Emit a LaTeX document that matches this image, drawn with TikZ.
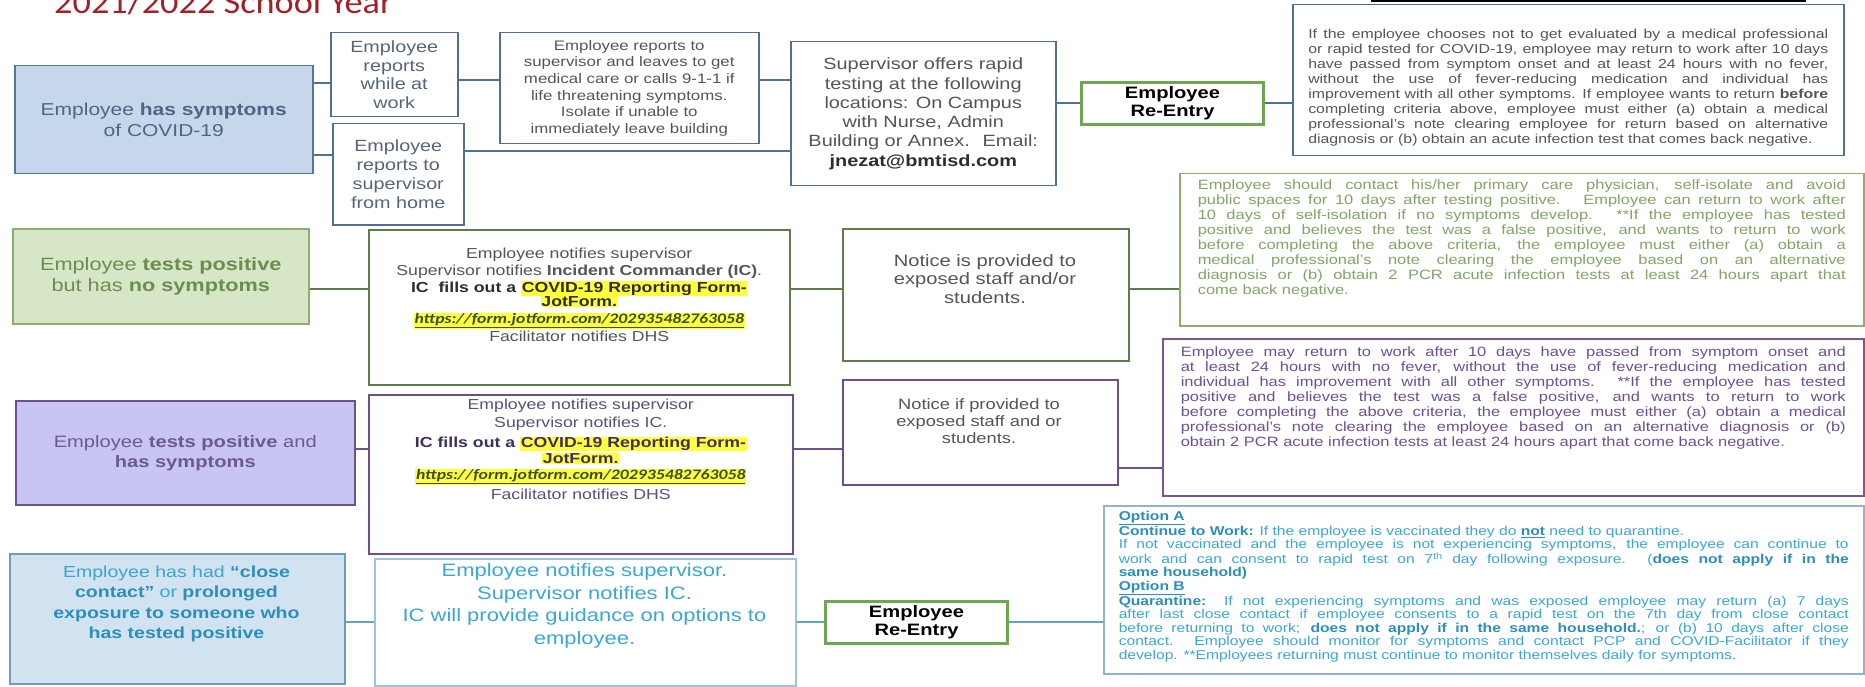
\documentclass[tikz,border=0pt]{standalone}
\usepackage{fontspec}
\setmainfont{Liberation Sans}[FakeStretch=1.22]
\newfontfamily\calfont{Carlito}[FakeStretch=1.22]
\newfontfamily\titlefont{Carlito}[FakeStretch=1.1]
\usetikzlibrary{calc}
\newcommand\setfs[2]{\fontsize{#1}{#2}\selectfont}
\definecolor{titlered}{HTML}{A3202A}
\definecolor{sfill}{HTML}{C7D7EB}
\definecolor{sdraw}{HTML}{56739C}
\definecolor{stext}{HTML}{4E6585}
\definecolor{rdraw}{HTML}{50709A}
\definecolor{whtext}{HTML}{566579}
\definecolor{gtext}{HTML}{555555}
\definecolor{dtext}{HTML}{2E2E2E}
\definecolor{redraw}{HTML}{6FA651}
\definecolor{gfill}{HTML}{D6E6C7}
\definecolor{gdraw}{HTML}{8CAE72}
\definecolor{gltext}{HTML}{6B8E50}
\definecolor{gdark}{HTML}{5E7D4A}
\definecolor{tgtext}{HTML}{82A466}
\definecolor{pfill}{HTML}{C9C5F3}
\definecolor{pdraw}{HTML}{6C528E}
\definecolor{pltext}{HTML}{6B5A92}
\definecolor{pdark}{HTML}{704E8E}
\definecolor{pmtext}{HTML}{5D4E7A}
\definecolor{pbold}{HTML}{3E2F5E}
\definecolor{tptext}{HTML}{6F4F93}
\definecolor{tpdraw}{HTML}{7A5599}
\definecolor{bfill}{HTML}{D1E3F1}
\definecolor{bdraw}{HTML}{6E9CBA}
\definecolor{btext}{HTML}{3FA3CD}
\definecolor{bbold}{HTML}{2C8EBA}
\definecolor{b2draw}{HTML}{9DC4D8}
\definecolor{tbdraw}{HTML}{8FB4CB}
\definecolor{tbtext}{HTML}{3AA7D6}
\definecolor{blines}{HTML}{62A4C6}
\definecolor{hl}{HTML}{FFFF3C}
\definecolor{urlc}{HTML}{3A4F2C}
\newcommand\hlb[1]{{\setlength\fboxsep{0.6pt}\colorbox{hl}{#1}}}
\newcommand\jurl{\hlb{\calfont\bfseries\itshape\color{urlc}\underline{https://form.jotform.com/202935482763058}}}
\hbadness=10000
\begin{document}
\begin{tikzpicture}[x=1pt,y=-1pt,
  box/.style={draw, rectangle, inner sep=0pt, anchor=north west, line width=1.5pt},
  rebox/.style={box, draw=redraw, line width=3pt, text=black, align=center, font=\setfs{16.5}{18}\bfseries},
  tx/.style={inner sep=0pt},
  con/.style={line width=1.5pt}]
\useasboundingbox (0,0) rectangle (1865,687);
\clip (0,0) rectangle (1865,687);
\fill[white] (0,0) rectangle (1865,687);

% title (cut at top)
\node[tx, anchor=base west, text=titlered, font=\titlefont\setfs{33}{38}] (title) at (54,14) {2021/2022 School Year};
\draw[black, line width=1.5pt] (1372,-10) rectangle (1805,1.2);

% ---------- row 1 ----------
\node[box, draw=sdraw, fill=sfill, minimum width=298pt, minimum height=108pt, text=stext, align=center, font=\setfs{17.2}{21.5}] (S1) at (14,65) {Employee \textbf{has symptoms}\\of COVID-19};
\node[box, draw=rdraw, minimum width=127pt, minimum height=84pt, text=whtext, align=center, font=\setfs{16.2}{18.5}] (W) at (330,32) {Employee\\reports\\while at\\work};
\node[box, draw=rdraw, minimum width=131pt, minimum height=101pt, text=whtext, align=center, font=\setfs{16.2}{18.8}] (H) at (332,123) {Employee\\reports to\\supervisor\\from home};
\node[box, draw=rdraw, minimum width=259pt, minimum height=111pt, text=gtext, align=center, font=\setfs{13.8}{16.7}] (L) at (499,32) {Employee reports to\\supervisor and leaves to get\\medical care or calls 9-1-1 if\\life threatening symptoms.\\Isolate if unable to\\immediately leave building};
\node[box, draw=rdraw, minimum width=265pt, minimum height=144pt, text=gtext, align=center, font=\setfs{16.3}{19.3}] (SUP) at (790,41) {Supervisor offers rapid\\testing at the following\\locations: On Campus\\with Nurse, Admin\\Building or Annex.~ Email:\\\textcolor{dtext}{\textbf{jnezat@bmtisd.com}}};
\node[rebox, minimum width=182pt, minimum height=42pt] (RE1) at (1080,81) {Employee\\Re-Entry};
\node[box, draw=rdraw, minimum width=551pt, minimum height=151pt] (T1) at (1292,4) {};
\node[tx, anchor=north, text width=520pt, align=justify, text=gtext, font=\setfs{13}{15}] (T1t) at ($(T1.north)+(0,25)$) {If the employee chooses not to get evaluated by a medical professional\linebreak or rapid tested for COVID-19, employee may return to work after 10 days\linebreak have passed from symptom onset and at least 24 hours with no fever,\linebreak without the use of fever-reducing medication and individual has\linebreak improvement with all other symptoms. If employee wants to return \textbf{before}\linebreak completing criteria above, employee must either (a) obtain a medical\linebreak professional’s note clearing employee for return based on alternative\linebreak diagnosis or (b) obtain an acute infection test that comes back negative.};

\coordinate (ya) at (0,83);
\coordinate (yb) at (0,155);
\coordinate (yc) at (0,80);
\coordinate (yd) at (0,151);
\coordinate (ye) at (0,103);
\draw[con, rdraw] (S1.east |- ya) -- (W.west |- ya);
\draw[con, rdraw] (S1.east |- yb) -- (H.west |- yb);
\draw[con, rdraw] (W.east |- yc) -- (L.west |- yc);
\draw[con, rdraw] (L.east |- yc) -- (SUP.west |- yc);
\draw[con, rdraw] (H.east |- yd) -- (SUP.west |- yd);
\draw[con, rdraw] (SUP.east |- ye) -- (RE1.west |- ye);
\draw[con, rdraw] (RE1.east |- ye) -- (T1.west |- ye);

% ---------- row 2 ----------
\node[box, draw=gdraw, fill=gfill, minimum width=296pt, minimum height=95pt, text=gltext, align=center, font=\setfs{17.8}{20.5}] (G1) at (12,228) {Employee \textbf{tests positive}\\but has \textbf{no symptoms}};
\node[box, draw=gdark, minimum width=421pt, minimum height=155pt] (G2) at (368,229) {};
\node[tx, anchor=north, align=center, text=gtext, font=\setfs{14.5}{15}] (G2t) at ($(G2.north)+(0,19)$) {Employee notifies supervisor\\[2pt]
Supervisor notifies \textbf{Incident Commander (IC)}.\\[1.5pt]
\textcolor{dtext}{\textbf{IC~ fills out a} \hlb{\textbf{COVID-19 Reporting Form-}}}\\[-0.5pt]
\textcolor{dtext}{\hlb{\textbf{JotForm.}}}\\[2pt]
\jurl\\[1.5pt]
Facilitator notifies DHS};
\node[box, draw=gdark, minimum width=286pt, minimum height=132pt] (N1) at (842,228) {};
\node[tx, align=center, text=gtext, font=\setfs{16.5}{18.5}] (N1t) at (985,279) {Notice is provided to\\exposed staff and/or\\students.};
\node[box, draw=gdraw, minimum width=684pt, minimum height=152pt] (T2) at (1179,173) {};
\node[tx, anchor=north, text width=648pt, align=justify, text=tgtext, font=\setfs{13.5}{14.9}] (T2t) at ($(T2.north)+(0,7)$) {Employee should contact his/her primary care physician, self-isolate and avoid\linebreak public spaces for 10 days after testing positive.~ Employee can return to work after\linebreak 10 days of self-isolation if no symptoms develop. **If the employee has tested\linebreak positive and believes the test was a false positive, and wants to return to work\linebreak before completing the above criteria, the employee must either (a) obtain a\linebreak medical professional’s note clearing the employee based on an alternative\linebreak diagnosis or (b) obtain 2 PCR acute infection tests at least 24 hours apart that\linebreak come back negative.};
\coordinate (yf) at (0,289);
\draw[con, gdark] (G1.east |- yf) -- (G2.west |- yf);
\draw[con, gdark] (G2.east |- yf) -- (N1.west |- yf);
\draw[con, gdark] (N1.east |- yf) -- (T2.west |- yf);

% ---------- row 3 ----------
\node[box, draw=pdraw, fill=pfill, minimum width=339pt, minimum height=104pt, text=pltext, align=center, font=\setfs{16.5}{20}] (P1) at (15,400) {Employee \textbf{tests positive} and\\\textbf{has symptoms}};
\node[box, draw=pdark, minimum width=424pt, minimum height=159pt] (P2) at (368,394) {};
\node[tx, anchor=north, align=center, text=pmtext, font=\setfs{14.5}{16}] (P2t) at ($(P2.north)+(0,5)$) {Employee notifies supervisor\\[2pt]
Supervisor notifies IC.\\[4pt]
\textcolor{pbold}{\textbf{IC fills out a} \hlb{\textbf{COVID-19 Reporting Form-}}}\\
\textcolor{pbold}{\hlb{\textbf{JotForm.}}}\\
\jurl\\[4pt]
Facilitator notifies DHS};
\node[box, draw=pdark, minimum width=275pt, minimum height=105pt] (N2) at (842,379) {};
\node[tx, align=center, text=gtext, font=\setfs{15}{17}] (N2t) at (979,421) {Notice if provided to\\exposed staff and or\\students.};
\node[box, draw=tpdraw, minimum width=701pt, minimum height=157pt] (T3) at (1162,338) {};
\node[tx, anchor=north, text width=665pt, align=justify, text=tptext, font=\setfs{13.5}{15}] (T3t) at ($(T3.north)+(0,9)$) {Employee may return to work after 10 days have passed from symptom onset and\linebreak at least 24 hours with no fever, without the use of fever-reducing medication and\linebreak individual has improvement with all other symptoms. **If the employee has tested\linebreak positive and believes the test was a false positive, and wants to return to work\linebreak before completing the above criteria, the employee must either (a) obtain a medical\linebreak professional’s note clearing the employee based on an alternative diagnosis or (b)\linebreak obtain 2 PCR acute infection tests at least 24 hours apart that come back negative.};
\coordinate (yg) at (0,449);
\coordinate (yh) at (0,468);
\draw[con, pdraw] (P1.east |- yg) -- (P2.west |- yg);
\draw[con, pdraw] (P2.east |- yg) -- (N2.west |- yg);
\draw[con, pdraw] (N2.east |- yh) -- (T3.west |- yh);

% ---------- row 4 ----------
\node[box, draw=bdraw, fill=bfill, minimum width=335pt, minimum height=130pt] (B1) at (9,553) {};
\node[tx, align=center, text=btext, font=\setfs{16}{20.5}] (B1t) at (176.5,604) {Employee has had \textcolor{bbold}{\textbf{“close}}\\\textcolor{bbold}{\textbf{contact”}} or \textcolor{bbold}{\textbf{prolonged}}\\\textcolor{bbold}{\textbf{exposure to someone who}}\\\textcolor{bbold}{\textbf{has tested positive}}};
\node[box, draw=b2draw, minimum width=421pt, minimum height=127pt] (B2) at (374,558) {};
\node[tx, align=center, text=tbtext, font=\setfs{18}{22.5}] (B2t) at (584.5,606) {Employee notifies supervisor.\\Supervisor notifies IC.\\IC will provide guidance on options to\\employee.};
\node[rebox, minimum width=182pt, minimum height=42pt] (RE2) at (824,600) {Employee\\Re-Entry};
\node[box, draw=tbdraw, minimum width=760pt, minimum height=168pt] (T4) at (1103,505) {};
\node[tx, anchor=north, text width=730pt, align=justify, text=tbtext, font=\setfs{12.8}{13.5}] (T4t) at ($(T4.north)+(0,6)$) {\textcolor{bbold}{\underline{\textbf{Option A}}}\\
\textcolor{bbold}{\textbf{Continue to Work:}} If the employee is vaccinated they do \textcolor{bbold}{\underline{\textbf{not}}} need to quarantine.\\
If not vaccinated and the employee is not experiencing symptoms, the employee can continue to\linebreak work and can consent to rapid test on 7\textsuperscript{th} day following exposure. (\textcolor{bbold}{\textbf{does not apply if in the}}\linebreak \textcolor{bbold}{\textbf{same household)}}\\
\textcolor{bbold}{\underline{\textbf{Option B}}}\\
\textcolor{bbold}{\textbf{Quarantine:}} If not experiencing symptoms and was exposed employee may return (a) 7 days\linebreak after last close contact if employee consents to a rapid test on the 7th day from close contact\linebreak before returning to work; \textcolor{bbold}{\textbf{does not apply if in the same household.}}; or (b) 10 days after close\linebreak contact. Employee should monitor for symptoms and contact PCP and COVID-Facilitator if they\linebreak develop. **Employees returning must continue to monitor themselves daily for symptoms.};
\coordinate (yi) at (0,622);
\draw[con, blines] (B1.east |- yi) -- (B2.west |- yi);
\draw[con, blines] (B2.east |- yi) -- (RE2.west |- yi);
\draw[con, blines] (RE2.east |- yi) -- (T4.west |- yi);
\end{tikzpicture}
\end{document}
